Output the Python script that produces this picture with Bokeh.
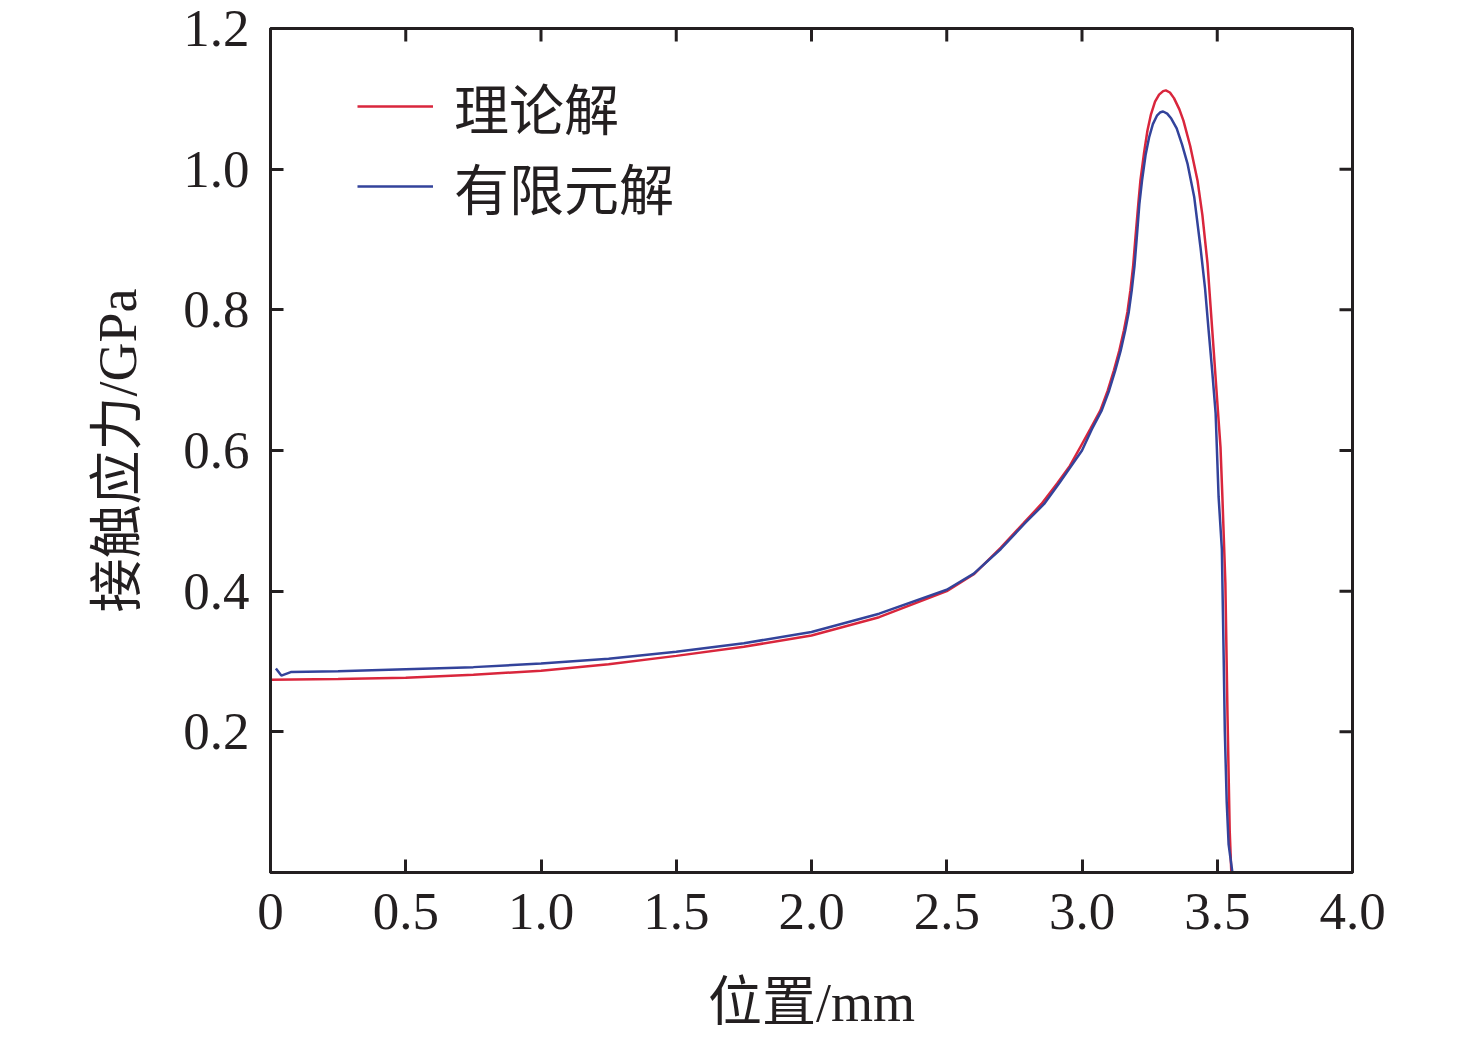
import math
from bokeh.plotting import figure
from bokeh.models import Range1d, LinearAxis, FixedTicker, Legend, LegendItem
from bokeh.embed import file_html
from bokeh.resources import INLINE

# ---- data ----
theory_x = [0.0, 0.25, 0.5, 0.75, 1.0, 1.25, 1.5, 1.75, 2.0, 2.25, 2.5, 2.6, 2.7, 2.785,
            2.85, 2.908, 2.955, 2.994, 3.03, 3.068, 3.095, 3.118, 3.138, 3.155, 3.168,
            3.179, 3.189, 3.198, 3.208, 3.216, 3.23, 3.242, 3.255, 3.27, 3.285, 3.30,
            3.31, 3.325, 3.34, 3.36, 3.375, 3.40, 3.427, 3.445, 3.464, 3.486, 3.50,
            3.512, 3.519, 3.530, 3.538, 3.546, 3.552]
theory_y = [0.274, 0.275, 0.277, 0.281, 0.287, 0.296, 0.308, 0.321, 0.337, 0.363, 0.400,
            0.424, 0.462, 0.497, 0.524, 0.553, 0.578, 0.605, 0.630, 0.657, 0.685, 0.714,
            0.742, 0.771, 0.797, 0.828, 0.862, 0.905, 0.950, 0.984, 1.025, 1.055, 1.078,
            1.096, 1.106, 1.111, 1.112, 1.109, 1.101, 1.085, 1.069, 1.033, 0.984, 0.935,
            0.866, 0.747, 0.670, 0.605, 0.534, 0.412, 0.222, 0.060, 0.0]

fem_x = [0.02, 0.04, 0.075, 0.25, 0.5, 0.75, 1.0, 1.25, 1.5, 1.75, 2.0, 2.25, 2.5, 2.6,
         2.7, 2.79, 2.86, 2.915, 2.96, 3.0, 3.036, 3.073, 3.10, 3.123, 3.143, 3.16, 3.173,
         3.184, 3.194, 3.203, 3.212, 3.222, 3.235, 3.248, 3.262, 3.277, 3.29, 3.30, 3.315,
         3.33, 3.35, 3.37, 3.39, 3.415, 3.438, 3.455, 3.468, 3.482, 3.494, 3.505, 3.517,
         3.524, 3.528, 3.535, 3.542, 3.556]
fem_y = [0.290, 0.280, 0.285, 0.286, 0.289, 0.292, 0.297, 0.304, 0.314, 0.326, 0.342,
         0.368, 0.402, 0.425, 0.460, 0.497, 0.524, 0.553, 0.578, 0.600, 0.630, 0.657,
         0.685, 0.714, 0.742, 0.771, 0.797, 0.828, 0.862, 0.905, 0.950, 0.984, 1.020,
         1.045, 1.064, 1.076, 1.081, 1.082, 1.079, 1.072, 1.058, 1.035, 1.008, 0.960,
         0.889, 0.830, 0.771, 0.710, 0.653, 0.534, 0.460, 0.300, 0.200, 0.100, 0.040, 0.0]

x_ticks = [0, 0.5, 1.0, 1.5, 2.0, 2.5, 3.0, 3.5, 4.0]
x_tick_labels = ["0", "0.5", "1.0", "1.5", "2.0", "2.5", "3.0", "3.5", "4.0"]
y_ticks = [0.2, 0.4, 0.6, 0.8, 1.0, 1.2]
y_tick_labels = ["0.2", "0.4", "0.6", "0.8", "1.0", "1.2"]

series_names = ["理论解", "有限元解"]
series_colors = ["#d9263c", "#33439b"]

x_title = "位置/mm"
y_title = "接触应力/GPa"

X_MIN, X_MAX = 0.0, 4.0
Y_MIN, Y_MAX = 0.0, 1.2

FONT = "Liberation Serif, 'Times New Roman', 'Noto Sans CJK SC'"
INK = "#231f20"

p = figure(width=1468, height=1035, output_backend="svg", toolbar_location=None,
           x_range=Range1d(X_MIN, X_MAX), y_range=Range1d(Y_MIN, Y_MAX),
           min_border_left=270, min_border_right=116, min_border_top=28,
           min_border_bottom=162, x_axis_location=None, y_axis_location=None)
p.grid.visible = False
p.outline_line_color = INK
p.outline_line_width = 3
p.background_fill_color = "white"
p.border_fill_color = "white"


def style_axis(ax, ticks, labels, title):
    ax.ticker = FixedTicker(ticks=ticks)
    ax.major_label_overrides = {t: l for t, l in zip(ticks, labels)}
    ax.axis_line_color = INK
    ax.axis_line_width = 3
    ax.major_tick_line_color = INK
    ax.major_tick_line_width = 3
    ax.major_tick_in = 13
    ax.major_tick_out = 0
    ax.minor_tick_line_color = None
    ax.major_label_text_font = FONT
    ax.major_label_text_color = INK
    ax.major_label_text_font_size = "53px"
    ax.major_label_standoff = 21
    ax.axis_label = title
    ax.axis_label_text_font = FONT
    ax.axis_label_text_font_size = "54px"
    ax.axis_label_text_font_style = "normal"
    ax.axis_label_text_color = INK


xb = LinearAxis()
style_axis(xb, x_ticks, x_tick_labels, x_title)
xb.axis_label_standoff = 41
p.add_layout(xb, "below")

yl = LinearAxis()
style_axis(yl, y_ticks, y_tick_labels, y_title)
yl.axis_label_standoff = 32
p.add_layout(yl, "left")

# mirrored inward ticks on the top and right frame edges
p.ray(x=x_ticks, y=[Y_MAX] * len(x_ticks), length=13, length_units="screen",
      angle=-math.pi / 2, line_color=INK, line_width=3)
p.ray(x=[X_MAX] * len(y_ticks), y=y_ticks, length=13, length_units="screen",
      angle=math.pi, line_color=INK, line_width=3)

r1 = p.line(theory_x, theory_y, line_color=series_colors[0], line_width=2.5)
r2 = p.line(fem_x, fem_y, line_color=series_colors[1], line_width=2.5)

legend = Legend(items=[LegendItem(label=series_names[0], renderers=[r1]),
                       LegendItem(label=series_names[1], renderers=[r2])],
                location=(87, 646), margin=0, padding=0, spacing=0,
                glyph_width=76, glyph_height=80, label_height=80,
                label_standoff=21, border_line_alpha=0, background_fill_alpha=0,
                label_text_font=FONT, label_text_font_size="55px",
                label_text_color=INK, label_text_baseline="middle")
p.add_layout(legend, "center")

open("out.html", "w").write(file_html(p, INLINE))
